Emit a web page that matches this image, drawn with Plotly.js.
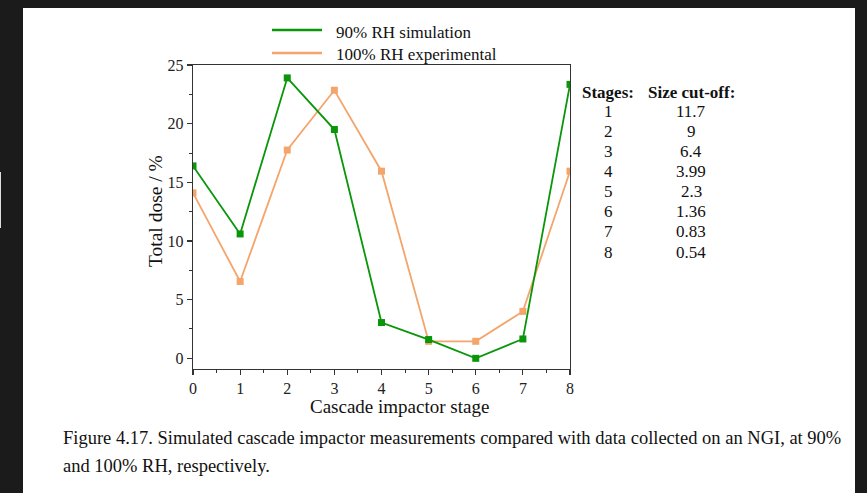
<!DOCTYPE html>
<html>
<head>
<meta charset="utf-8">
<script src="https://cdn.plot.ly/plotly-3.0.1.min.js"></script>
<style>
  html, body { margin: 0; padding: 0; width: 867px; height: 493px; overflow: hidden; background: #1b1b1b; }
  #chart { position: absolute; left: 23px; top: 8px; width: 832px; height: 485px; }
  #edge { position: absolute; left: 0; top: 172px; width: 1px; height: 56px; background: #ddd; }
</style>
</head>
<body>
<div id="edge"></div>
<div id="chart"></div>
<script>
// ---- data ----
const stages = [0, 1, 2, 3, 4, 5, 6, 7, 8];
const sim90 = [16.4, 10.6, 23.9, 19.5, 3.05, 1.6, 0.0, 1.65, 23.35];
const exp100 = [14.1, 6.55, 17.75, 22.85, 15.95, 1.45, 1.45, 4.0, 15.95];
const seriesNames = ['90% RH simulation', '100% RH experimental'];
const tableStages = ['1', '2', '3', '4', '5', '6', '7', '8'];
const tableCutoffs = ['11.7', '9', '6.4', '3.99', '2.3', '1.36', '0.83', '0.54'];
const xTicks = [0, 1, 2, 3, 4, 5, 6, 7, 8];
const yTicks = [0, 5, 10, 15, 20, 25];

const GREEN = '#0a960a';
const ORANGE = '#f4a56c';
const FONT = 'Liberation Serif';

// page-pixel helpers (chart div offset 23,8); plot area: x 193..570, y 65..369
const DX = 23, DY = 8;
const PL = 193, PR = 570, PT = 65, PB = 369;
const px = x => (x - PL) / (PR - PL);
const py = y => (PB - y) / (PB - PT);

const traces = [
  { x: stages, y: exp100, name: seriesNames[1], mode: 'lines+markers', showlegend: false,
    line: { color: ORANGE, width: 1.8 }, marker: { symbol: 'square', size: 7, color: ORANGE } },
  { x: stages, y: sim90, name: seriesNames[0], mode: 'lines+markers', showlegend: false,
    line: { color: GREEN, width: 1.8 }, marker: { symbol: 'square', size: 7, color: GREEN } }
];

const annotations = [];
const shapes = [];
const TXT = '#111';

// legend (swatch lines + labels)
const legendY = [30, 53];
const legendColors = [GREEN, ORANGE];
seriesNames.forEach((n, i) => {
  shapes.push({ type: 'line', xref: 'paper', yref: 'paper',
    x0: px(272), x1: px(322), y0: py(legendY[i]), y1: py(legendY[i]),
    line: { color: legendColors[i], width: 2.6 } });
  annotations.push({ xref: 'paper', yref: 'paper', x: px(334), y: py(legendY[i] + 2),
    xanchor: 'left', yanchor: 'middle', showarrow: false, text: n,
    font: { family: FONT, size: 17, color: TXT } });
});

// table
annotations.push({ xref: 'paper', yref: 'paper', x: px(608), y: py(92), xanchor: 'center', yanchor: 'middle',
  showarrow: false, text: '<b>Stages:</b>', font: { family: FONT, size: 17, color: TXT } });
annotations.push({ xref: 'paper', yref: 'paper', x: px(691), y: py(92), xanchor: 'center', yanchor: 'middle',
  showarrow: false, text: '<b>Size cut-off:</b>', font: { family: FONT, size: 17, color: TXT } });
tableStages.forEach((s, i) => {
  const yy = 111 + i * 20.15;
  annotations.push({ xref: 'paper', yref: 'paper', x: px(608), y: py(yy), xanchor: 'center', yanchor: 'middle',
    showarrow: false, text: s, font: { family: FONT, size: 17, color: TXT } });
  annotations.push({ xref: 'paper', yref: 'paper', x: px(691), y: py(yy), xanchor: 'center', yanchor: 'middle',
    showarrow: false, text: tableCutoffs[i], font: { family: FONT, size: 17, color: TXT } });
});

// axis titles
annotations.push({ xref: 'paper', yref: 'paper', x: px(399), y: py(406), xanchor: 'center', yanchor: 'middle',
  showarrow: false, text: 'Cascade impactor stage', font: { family: FONT, size: 19, color: TXT } });
annotations.push({ xref: 'paper', yref: 'paper', x: px(155), y: py(211), xanchor: 'center', yanchor: 'middle',
  showarrow: false, textangle: -90, text: 'Total dose / %', font: { family: FONT, size: 19.5, color: TXT } });

// caption
annotations.push({ xref: 'paper', yref: 'paper', x: px(61), y: py(438), xanchor: 'left', yanchor: 'middle',
  showarrow: false, text: 'Figure 4.17. Simulated cascade impactor measurements compared with data collected on an NGI, at 90%',
  font: { family: FONT, size: 18.5, color: TXT } });
annotations.push({ xref: 'paper', yref: 'paper', x: px(61), y: py(466), xanchor: 'left', yanchor: 'middle',
  showarrow: false, text: 'and 100% RH, respectively.',
  font: { family: FONT, size: 18.5, color: TXT } });

const W = 832, H = 485;
const layout = {
  width: W, height: H,
  paper_bgcolor: '#ffffff', plot_bgcolor: '#ffffff',
  margin: { l: PL - DX, r: W - (PR - DX), t: PT - DY, b: H - (PB - DY), pad: 0 },
  showlegend: false,
  font: { family: FONT, size: 15, color: '#222' },
  xaxis: {
    range: [0, 8], tickvals: xTicks, ticktext: xTicks.map(String),
    showgrid: false, zeroline: false, showline: true, mirror: true,
    linecolor: '#333', linewidth: 1.2, ticks: 'outside', ticklen: 5, tickwidth: 1.2, tickcolor: '#333',
    minor: { dtick: 0.5, ticks: 'outside', ticklen: 3, tickwidth: 1, tickcolor: '#333', showgrid: false },
    tickfont: { family: FONT, size: 16, color: '#222' }
  },
  yaxis: {
    range: [-0.91, 25], tickvals: yTicks, ticktext: yTicks.map(String),
    showgrid: false, zeroline: false, showline: true, mirror: true,
    linecolor: '#333', linewidth: 1.2, ticks: 'outside', ticklen: 5, tickwidth: 1.2, tickcolor: '#333',
    minor: { tickvals: [2.5, 7.5, 12.5, 17.5, 22.5], ticks: 'outside', ticklen: 3, tickwidth: 1, tickcolor: '#333', showgrid: false },
    tickfont: { family: FONT, size: 16, color: '#222' }
  },
  shapes: shapes,
  annotations: annotations
};

Plotly.newPlot('chart', traces, layout, { displayModeBar: false, staticPlot: true });
</script>
</body>
</html>
